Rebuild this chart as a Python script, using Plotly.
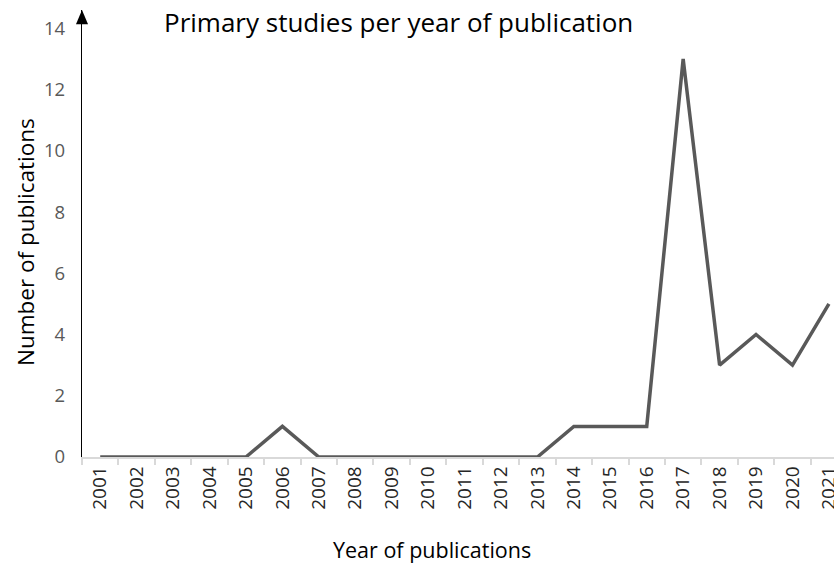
import plotly.graph_objects as go

years = [str(y) for y in range(2001, 2022)]
counts = [0, 0, 0, 0, 0, 1, 0, 0, 0, 0, 0, 0, 0, 1, 1, 1, 13, 3, 4, 3, 5]
y_ticks = [0, 2, 4, 6, 8, 10, 12, 14]

FONT = "Open Sans"
L, T, B = 82, 10, 107
W, H = 834, 564
PW, PH = W - L, H - T - B

fig = go.Figure()
fig.add_trace(go.Scatter(
    x=years, y=counts, mode="lines",
    line=dict(color="#595959", width=3.5),
    hoverinfo="x+y",
))

fig.update_layout(
    width=W, height=H,
    margin=dict(l=L, r=0, t=T, b=B),
    paper_bgcolor="white", plot_bgcolor="white",
    showlegend=False,
    font=dict(family=FONT),
    xaxis=dict(
        type="category",
        automargin=False,
        range=[-0.5, 20.14],
        tickson="boundaries",
        ticks="outside", ticklen=6, tickcolor="#d9d9d9", tickwidth=1.5,
        showline=True, linecolor="#d9d9d9", linewidth=1.5,
        showgrid=False, zeroline=False,
        tickangle=-90,
        tickfont=dict(family=FONT, size=19, color="#262626"),
    ),
    yaxis=dict(
        automargin=False,
        range=[0, 14.6],
        tickvals=y_ticks,
        showline=True, linecolor="#000000", linewidth=1.2,
        showgrid=False, zeroline=False,
        ticks="", ticklabelstandoff=12,
        tickfont=dict(family=FONT, size=18.5, color="#595959"),
    ),
)

# arrowhead at the top of the y axis
fig.add_shape(
    type="path", xref="paper", yref="paper",
    path="M -0.008 0.968 L 0.008 0.968 L 0 1.0 Z",
    fillcolor="#000000", line=dict(width=0),
)

fig.add_annotation(
    text="Primary studies per year of publication",
    xref="paper", yref="paper", x=(398 - L) / PW, y=1.0,
    xanchor="center", yanchor="top", yshift=8,
    showarrow=False,
    font=dict(family=FONT, size=26, color="#000000"),
)

fig.add_annotation(
    text="Year of publications",
    xref="paper", yref="paper", x=(432 - L) / PW, y=-(549 - (H - B)) / PH,
    xanchor="center", yanchor="middle",
    showarrow=False,
    font=dict(family=FONT, size=21.5, color="#000000"),
)

fig.add_annotation(
    text="Number of publications",
    xref="paper", yref="paper", x=(25 - L) / PW, y=((H - B) - 242) / PH,
    xanchor="center", yanchor="middle", textangle=-90,
    showarrow=False,
    font=dict(family=FONT, size=22.5, color="#000000"),
)

fig.write_html("out.html", config={"displayModeBar": False},
               post_script="document.body.style.margin='0';")
